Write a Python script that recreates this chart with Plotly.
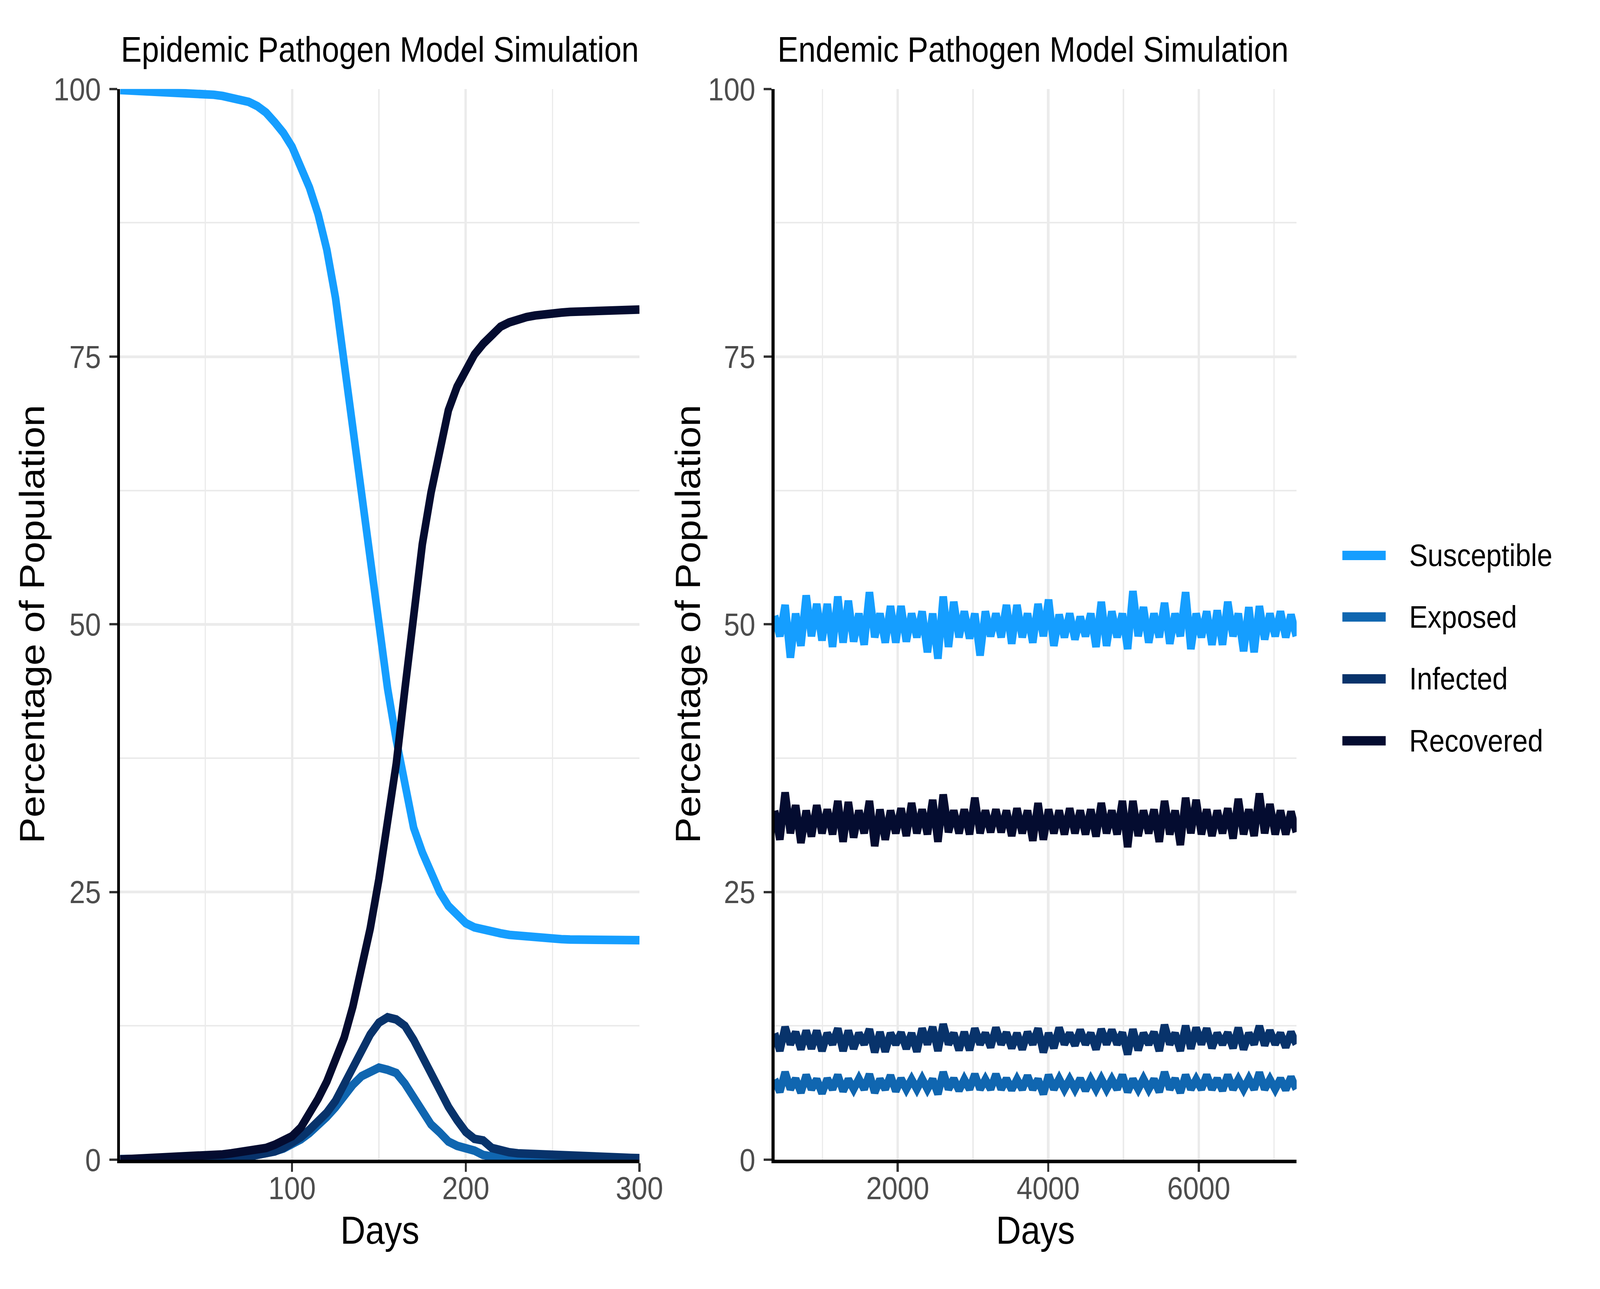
import plotly.graph_objects as go

# ---------------- data ----------------
series_names = ["Susceptible", "Exposed", "Infected", "Recovered"]
series_colors = ["#159EFF", "#1066B0", "#08336B", "#040C30"]

# Epidemic panel (days 1..300)
epi_days = [1] + list(range(5, 301, 5))
epi_S = [99.9, 99.88, 99.86, 99.84, 99.82, 99.8, 99.77, 99.73, 99.68, 99.62,
         99.55, 99.46, 99.35, 99.2, 99.05, 98.8, 98.4, 97.8, 96.9, 95.9,
         94.6, 92.9, 90.8, 88.3, 85.0, 80.5, 74.5, 68.5, 62.8, 55.8,
         49.7, 44.0, 39.2, 34.9, 31.0, 28.7, 26.7, 25.0, 23.7, 22.9,
         22.1, 21.7, 21.45, 21.3, 21.15, 21.0, 20.9, 20.85, 20.75, 20.7,
         20.65, 20.6, 20.57, 20.55, 20.53, 20.52, 20.51, 20.5, 20.5, 20.5, 20.5]
epi_E = [0.05, 0.05, 0.05, 0.05, 0.05, 0.05, 0.05, 0.05, 0.05, 0.06,
         0.07, 0.09, 0.12, 0.16, 0.22, 0.3, 0.42, 0.58, 0.8, 1.05,
         1.45, 1.9, 2.5, 3.15, 4.0, 4.9, 6.0, 7.0, 7.8, 8.3,
         8.6, 8.4, 8.1, 7.1, 5.8, 4.5, 3.3, 2.55, 1.7, 1.3,
         1.15, 0.85, 0.45, 0.25, 0.15, 0.1, 0.07, 0.05, 0.04, 0.03,
         0.03, 0.02, 0.02, 0.02, 0.01, 0.01, 0.01, 0.01, 0.01, 0.01, 0.01]
epi_I = [0.05, 0.05, 0.05, 0.05, 0.05, 0.05, 0.05, 0.05, 0.06, 0.07,
         0.08, 0.1, 0.13, 0.17, 0.23, 0.3, 0.42, 0.55, 0.78, 1.1,
         1.55, 2.1, 2.8, 3.5, 4.4, 5.5, 7.0, 8.6, 10.2, 11.7,
         12.8, 13.3, 13.1, 12.5, 11.2, 9.6, 8.1, 6.4, 4.95, 3.7,
         2.6, 1.95, 1.8, 1.1, 0.85, 0.7, 0.6, 0.55, 0.5, 0.46,
         0.42, 0.38, 0.35, 0.32, 0.3, 0.27, 0.25, 0.22, 0.2, 0.17, 0.15]
epi_R = [0.02, 0.04, 0.06, 0.08, 0.1, 0.13, 0.16, 0.2, 0.24, 0.29,
         0.35, 0.42, 0.5, 0.6, 0.7, 0.82, 0.95, 1.1, 1.4, 1.75,
         2.2, 3.0, 4.2, 5.7, 7.3, 9.2, 11.4, 14.3, 18.0, 21.6,
         26.2, 31.5, 37.0, 44.0, 51.5, 57.5, 62.3, 66.5, 70.0, 72.2,
         73.9, 75.2, 76.2, 77.1, 77.8, 78.2, 78.5, 78.7, 78.85, 79.0,
         79.05, 79.12, 79.18, 79.22, 79.26, 79.3, 79.33, 79.36, 79.38, 79.4, 79.4]

# Endemic panel (days 365..7300)
end_days = list(range(365, 7300, 70))
end_S = [50.8, 48.9, 51.8, 46.9, 51.0, 48.0, 52.7, 48.9, 51.9, 48.5,
         51.9, 47.9, 52.6, 48.3, 52.2, 48.4, 51.0, 48.1, 53.0, 48.8,
         51.0, 48.3, 51.7, 48.3, 51.7, 48.4, 51.0, 48.8, 51.2, 47.4,
         51.0, 46.8, 52.6, 47.9, 52.1, 48.8, 51.2, 48.7, 51.0, 47.1,
         51.2, 48.9, 51.0, 48.8, 51.8, 48.2, 51.8, 48.8, 51.0, 48.3,
         51.9, 48.9, 52.3, 48.0, 50.9, 48.8, 51.0, 48.6, 50.7, 48.9,
         51.0, 47.9, 52.1, 48.0, 51.2, 48.8, 51.0, 47.7, 53.1, 48.9,
         51.6, 48.3, 51.0, 48.8, 52.0, 48.2, 51.0, 48.9, 53.0, 47.7,
         51.0, 48.8, 51.2, 48.1, 51.3, 48.1, 52.1, 48.9, 51.0, 47.5,
         51.6, 47.4, 51.7, 48.6, 51.0, 48.9, 51.2, 48.8, 50.9, 48.9]
end_E = [7.5, 6.35, 8.17, 6.6, 7.55, 6.28, 7.9, 6.6, 7.5, 6.22,
         7.55, 6.6, 7.9, 6.42, 7.5, 6.6, 7.55, 6.6, 7.97, 6.28,
         7.5, 6.6, 7.86, 6.42, 7.55, 6.6, 7.5, 6.6, 7.55, 6.6,
         7.5, 6.15, 8.17, 6.6, 7.55, 6.49, 7.5, 6.6, 7.97, 6.6,
         7.5, 6.6, 7.97, 6.6, 7.55, 6.55, 7.5, 6.6, 7.83, 6.6,
         7.5, 6.15, 7.9, 6.6, 7.55, 6.6, 7.5, 6.6, 7.55, 6.49,
         7.5, 6.6, 7.55, 6.6, 7.5, 6.6, 7.9, 6.35, 7.5, 6.6,
         7.55, 6.6, 7.5, 6.35, 8.17, 6.6, 7.55, 6.28, 7.9, 6.6,
         7.5, 6.6, 7.9, 6.6, 7.55, 6.49, 7.9, 6.6, 7.5, 6.6,
         7.55, 6.6, 8.13, 6.6, 7.5, 6.6, 7.55, 6.55, 7.7, 6.6]
end_I = [11.8, 10.18, 12.38, 10.8, 11.9, 10.32, 12.04, 10.39, 12.04, 10.18,
         11.8, 10.8, 12.24, 10.18, 12.04, 10.39, 11.8, 10.8, 12.17, 10.05,
         11.9, 10.11, 11.8, 10.8, 11.85, 10.39, 11.8, 10.11, 12.24, 10.8,
         12.38, 10.18, 12.65, 10.8, 11.8, 10.25, 11.9, 10.25, 12.24, 10.8,
         11.8, 10.52, 12.31, 10.8, 11.85, 10.45, 11.8, 10.32, 11.9, 10.8,
         12.24, 10.05, 11.8, 10.45, 12.31, 10.8, 11.8, 10.7, 12.1, 10.8,
         11.8, 10.32, 12.17, 10.8, 12.1, 10.8, 11.85, 9.85, 12.17, 10.25,
         11.8, 10.8, 11.9, 10.18, 12.58, 10.8, 11.8, 10.18, 12.5, 10.39,
         12.31, 10.8, 12.24, 10.45, 11.8, 10.8, 11.85, 10.45, 12.31, 10.32,
         11.8, 10.8, 12.47, 10.7, 12.04, 10.8, 11.8, 10.52, 11.9, 10.8]
end_R = [32.6, 29.9, 34.3, 30.5, 33.1, 29.6, 32.6, 30.2, 33.1, 30.5,
         32.7, 30.4, 33.5, 29.7, 33.4, 30.1, 32.6, 30.5, 33.5, 29.3,
         32.7, 29.9, 32.6, 30.5, 32.8, 30.25, 33.3, 30.5, 32.7, 30.4,
         33.6, 29.7, 34.1, 30.6, 32.6, 30.5, 32.7, 30.4, 33.8, 30.5,
         32.6, 30.6, 32.7, 30.6, 32.6, 30.25, 32.8, 30.5, 32.6, 29.8,
         33.3, 29.9, 32.7, 30.5, 32.6, 30.4, 32.8, 30.5, 32.6, 30.4,
         32.7, 30.2, 33.3, 30.5, 32.6, 30.4, 33.5, 29.2, 33.5, 30.25,
         32.6, 30.5, 32.7, 29.7, 33.5, 30.4, 32.6, 29.4, 33.8, 30.5,
         33.6, 30.4, 32.7, 30.25, 32.6, 30.5, 32.8, 30.0, 33.7, 30.4,
         32.7, 30.25, 34.2, 30.5, 33.2, 30.4, 32.6, 30.4, 32.5, 30.6]

y_ticks = [0, 25, 50, 75, 100]

# ---------------- figure ----------------
W, H = 4620, 3300
FONT = "Liberation Sans, Arial, Helvetica, sans-serif"
GRID = "#EBEBEB"


def px_x(p):
    return p / W


def px_y(p):
    return 1 - p / H


fig = go.Figure()
epi = [epi_S, epi_E, epi_I, epi_R]
end = [end_S, end_E, end_I, end_R]
for name, col, ys in zip(series_names, series_colors, epi):
    fig.add_trace(go.Scatter(x=epi_days, y=ys, mode="lines", name=name,
                             line=dict(color=col, width=22), showlegend=False,
                             xaxis="x", yaxis="y"))
for name, col, ys in zip(series_names, series_colors, end):
    fig.add_trace(go.Scatter(x=end_days, y=ys, mode="lines", name=name,
                             line=dict(color=col, width=22), showlegend=False,
                             xaxis="x2", yaxis="y2"))

y_dom = [px_y(3007), px_y(188)]
axis_common = dict(showline=True, linecolor="black", linewidth=9,
                   ticks="outside", ticklen=22, tickwidth=6, tickcolor="#333333",
                   tickfont=dict(family=FONT, size=82, color="#4D4D4D"),
                   showgrid=True, gridcolor=GRID, gridwidth=7, zeroline=False)
x_common = dict(axis_common, ticklabelstandoff=-28)
y_common = dict(axis_common, ticklabelstandoff=8)

fig.update_layout(
    width=W, height=H,
    margin=dict(l=0, r=0, t=0, b=0),
    paper_bgcolor="white", plot_bgcolor="white",
    font=dict(family=FONT, color="black"),
    showlegend=False,
    xaxis=dict(domain=[px_x(352), px_x(1874)], range=[1, 300], tick0=0, dtick=100,
               minor=dict(tick0=0, dtick=50, showgrid=True, gridcolor=GRID, gridwidth=4),
               anchor="y", **x_common),
    yaxis=dict(domain=y_dom, range=[0, 100], tickvals=y_ticks,
               minor=dict(tick0=0, dtick=12.5, showgrid=True, gridcolor=GRID, gridwidth=4),
               anchor="x", **y_common),
    xaxis2=dict(domain=[px_x(2270), px_x(3800)], range=[365, 7300], tick0=0, dtick=2000,
                minor=dict(tick0=0, dtick=1000, showgrid=True, gridcolor=GRID, gridwidth=4),
                anchor="y2", **x_common),
    yaxis2=dict(domain=y_dom, range=[0, 100], tickvals=y_ticks,
                minor=dict(tick0=0, dtick=12.5, showgrid=True, gridcolor=GRID, gridwidth=4),
                anchor="x2", **y_common),
)

annotations = [
    dict(text="Epidemic Pathogen Model Simulation", x=px_x(352), y=px_y(84),
         xanchor="left", yanchor="middle", font=dict(size=90, color="black", family=FONT)),
    dict(text="Endemic Pathogen Model Simulation", x=px_x(2276), y=px_y(84),
         xanchor="left", yanchor="middle", font=dict(size=90, color="black", family=FONT)),
    dict(text="Days", x=px_x(1113), y=px_y(3192), xanchor="center", yanchor="middle",
         font=dict(size=100, color="black", family=FONT)),
    dict(text="Days", x=px_x(3035), y=px_y(3192), xanchor="center", yanchor="middle",
         font=dict(size=100, color="black", family=FONT)),
    dict(text="Percentage of Population", x=px_x(94), y=px_y(1597), textangle=-90,
         xanchor="center", yanchor="middle", font=dict(size=100, color="black", family=FONT)),
    dict(text="Percentage of Population", x=px_x(2016), y=px_y(1597), textangle=-90,
         xanchor="center", yanchor="middle", font=dict(size=100, color="black", family=FONT)),
]

# legend (keys + labels)
legend_y = [1416, 1578, 1741, 1904]
shapes = []
for name, col, ly in zip(series_names, series_colors, legend_y):
    shapes.append(dict(type="line", xref="paper", yref="paper",
                       x0=px_x(3934), x1=px_x(4061), y0=px_y(ly), y1=px_y(ly),
                       line=dict(color=col, width=24)))
    annotations.append(dict(text=name, x=px_x(4128), y=px_y(ly), xanchor="left",
                            yanchor="middle", font=dict(size=80, color="black", family=FONT)))

for a in annotations:
    a.update(xref="paper", yref="paper", showarrow=False)

fig.update_layout(annotations=annotations, shapes=shapes)

# fit the 4620x3300 figure to the browser viewport so the whole frame is shown
fit_js = """
var gd = document.getElementById('{plot_id}');
function fitFigure() {
  var de = document.documentElement, b = document.body;
  de.style.margin = '0'; de.style.padding = '0'; de.style.overflow = 'hidden';
  b.style.margin = '0'; b.style.padding = '0'; b.style.overflow = 'hidden';
  de.style.background = '#FFFFFF'; b.style.background = '#FFFFFF';
  var vw = window.innerWidth || de.clientWidth;
  var vh = window.innerHeight || de.clientHeight;
  var sx = vw / 4620, sy = vh / 3300;
  if (!(sx > 0)) { sx = 1; }
  if (!(sy > 0) || sy / sx > 1.3 || sy / sx < 0.77) { sy = sx; }
  gd.style.position = 'absolute'; gd.style.left = '0px'; gd.style.top = '0px';
  gd.style.transformOrigin = '0 0';
  gd.style.transform = 'scale(' + sx + ',' + sy + ')';
}
fitFigure();
window.addEventListener('resize', fitFigure);
"""
fig.write_html("out.html", post_script=fit_js, config={"displayModeBar": False})
